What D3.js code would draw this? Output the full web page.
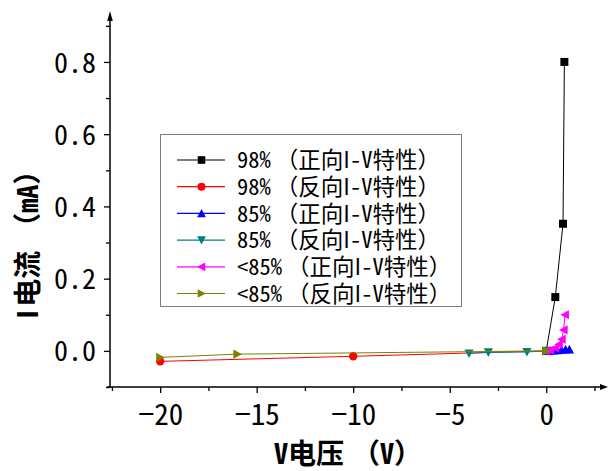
<!DOCTYPE html>
<html>
<head>
<meta charset="utf-8">
<script src="https://cdn.jsdelivr.net/npm/d3@7"></script>
<style>
  body { margin: 0; background: #fff; }
  svg { display: block; }
</style>
</head>
<body>
<svg></svg>
<script>
const seriesNames = [
  "98%（正向I-V特性）",
  "98%（反向I-V特性）",
  "85%（正向I-V特性）",
  "85%（反向I-V特性）",
  "<85%（正向I-V特性）",
  "<85%（反向I-V特性）",
];

const fwd98X = [0, 0.47, 0.87, 0.94];
const fwd98Y = [0, 0.149, 0.352, 0.8];
const rev98X = [-20, -10, 0];
const rev98Y = [-0.029, -0.015, 0];
const fwd85X = [0, 0.2, 0.4, 0.6, 0.8, 1.0, 1.2];
const fwd85Y = [0, 0, 0.001, 0.002, 0.003, 0.004, 0.004];
const rev85X = [-4, -3, -1, 0];
const rev85Y = [-0.007, -0.004, -0.003, 0];
const fwdLowX = [0, 0.2, 0.45, 0.65, 0.8, 0.9, 0.97];
const fwdLowY = [0, 0.002, 0.008, 0.018, 0.032, 0.058, 0.1];
const revLowX = [-20, -16, 0];
const revLowY = [-0.018, -0.009, 0];

const xTicks = [-20, -15, -10, -5, 0];
const yTicks = [0, 0.2, 0.4, 0.6, 0.8];

const series = [
  { name: seriesNames[0], xs: fwd98X, ys: fwd98Y, color: "#000000", shape: "square" },
  { name: seriesNames[1], xs: rev98X, ys: rev98Y, color: "#ff0000", shape: "circle" },
  { name: seriesNames[2], xs: fwd85X, ys: fwd85Y, color: "#0000ff", shape: "up" },
  { name: seriesNames[3], xs: rev85X, ys: rev85Y, color: "#008080", shape: "down" },
  { name: seriesNames[4], xs: fwdLowX, ys: fwdLowY, color: "#ff00ff", shape: "left" },
  { name: seriesNames[5], xs: revLowX, ys: revLowY, color: "#808000", shape: "right" },
];

const svg = d3.select("svg").attr("width", 608).attr("height", 471);

const monoFont = "'Noto Sans Mono CJK SC', 'Noto Sans CJK SC', sans-serif";
const sansFont = "'Noto Sans CJK SC', sans-serif";

const xScale = d3.scaleLinear().domain([-22.6, 3.2]).range([110, 608]);
const yScale = d3.scaleLinear().domain([-0.1, 0.93]).range([387, 15]);

// marker path generator
const marker = (shape, s) => {
  if (shape === "square") return `M${-s},${-s}H${s}V${s}H${-s}Z`;
  if (shape === "circle") return d3.symbol(d3.symbolCircle, Math.PI * s * s * 1.1)();
  const h = s * 1.15;
  if (shape === "up") return `M0,${-h}L${h},${s}L${-h},${s}Z`;
  if (shape === "down") return `M0,${h}L${h},${-s}L${-h},${-s}Z`;
  if (shape === "left") return `M${-h},0L${s},${-h}L${s},${h}Z`;
  return `M${h},0L${-s},${-h}L${-s},${h}Z`;
};

// the mono font has a serif "I" -> plain sans for that letter;
// the browser trims the blank half of "（", so put some gap back by hand
const fillText = (el, str, gaps = {}) => {
  let buf = "";
  const flush = () => {
    if (buf) el.append("tspan").text(buf);
    buf = "";
  };
  for (const ch of str) {
    if (ch === "I" || gaps[ch] !== undefined) {
      flush();
      const t = el.append("tspan").text(ch);
      if (ch === "I") t.style("font-family", sansFont);
      if (gaps[ch] !== undefined) t.attr("dx", gaps[ch]);
    } else {
      buf += ch;
    }
  }
  flush();
};

// axes
const xAxisY = yScale(-0.1);
const yAxisX = xScale(-22.6);

const xAxis = d3.axisBottom(xScale).tickValues(xTicks).tickSize(6).tickFormat((d) => (d < 0 ? "\u2212" + Math.abs(d) : d));
const xMinor = d3.axisBottom(xScale).tickValues([-22.5, -17.5, -12.5, -7.5, -2.5, 2.5]).tickSize(4).tickFormat("");
const yAxis = d3.axisLeft(yScale).tickValues(yTicks).tickSize(6).tickFormat(d3.format(".1f"));
const yMinor = d3.axisLeft(yScale).tickValues([-0.1, 0.1, 0.3, 0.5, 0.7, 0.9]).tickSize(4).tickFormat("");

const gx = svg.append("g").attr("transform", `translate(0,${xAxisY})`).call(xAxis);
svg.append("g").attr("transform", `translate(0,${xAxisY})`).call(xMinor);
const gy = svg.append("g").attr("transform", `translate(${yAxisX},0)`).call(yAxis);
svg.append("g").attr("transform", `translate(${yAxisX},0)`).call(yMinor);

svg.selectAll(".domain").remove();
svg.selectAll(".tick line").attr("stroke", "#000").attr("stroke-width", 1.3);

gx.selectAll(".tick text")
  .attr("y", 38)
  .attr("dy", 0)
  .style("font-family", monoFont)
  .style("font-size", "29px")
  .attr("fill", "#000");

gy.selectAll(".tick text")
  .attr("x", -14)
  .attr("dy", "0.36em")
  .style("font-family", monoFont)
  .style("font-size", "28px")
  .attr("fill", "#000");

// axis lines with arrows
svg.append("line")
  .attr("x1", yAxisX).attr("y1", xAxisY + 1)
  .attr("x2", yAxisX).attr("y2", 18)
  .attr("stroke", "#000").attr("stroke-width", 1.5);
svg.append("path")
  .attr("d", `M${yAxisX},11L${yAxisX + 2.8},21L${yAxisX - 2.8},21Z`)
  .attr("fill", "#000");
svg.append("line")
  .attr("x1", yAxisX - 3).attr("y1", xAxisY)
  .attr("x2", 603).attr("y2", xAxisY)
  .attr("stroke", "#000").attr("stroke-width", 1.5);
svg.append("path")
  .attr("d", `M608,${xAxisY}L600,${xAxisY - 3}L600,${xAxisY + 3}Z`)
  .attr("fill", "#000");

// data
const line = d3.line().x((d) => xScale(d[0])).y((d) => yScale(d[1]));

series.forEach((s) => {
  const pts = s.xs.map((x, i) => [x, s.ys[i]]);
  svg.append("path")
    .attr("d", line(pts))
    .attr("fill", "none")
    .attr("stroke", s.color)
    .attr("stroke-width", 1);
  svg.selectAll(null)
    .data(pts)
    .enter()
    .append("path")
    .attr("transform", (d) => `translate(${xScale(d[0])},${yScale(d[1])})`)
    .attr("d", marker(s.shape, 4))
    .attr("fill", s.color);
});

// legend
const legend = svg.append("g");
legend.append("rect")
  .attr("x", 160.5).attr("y", 134.5)
  .attr("width", 301).attr("height", 172)
  .attr("fill", "#fff")
  .attr("stroke", "#7f7f7f").attr("stroke-width", 1);

series.forEach((s, i) => {
  const y = 160 + i * 26.7;
  legend.append("line")
    .attr("x1", 177).attr("x2", 225)
    .attr("y1", y).attr("y2", y)
    .attr("stroke", s.color).attr("stroke-width", 1.2);
  legend.append("path")
    .attr("transform", `translate(201.5,${y})`)
    .attr("d", marker(s.shape, 3.8))
    .attr("fill", s.color);
  const t = legend.append("text")
    .attr("x", 237).attr("y", y)
    .attr("dy", "0.36em")
    .style("font-family", monoFont)
    .style("font-size", "22.5px")
    .attr("fill", "#000");
  fillText(t, s.name, { "（": 5 });
});

// axis titles
const xTitle = svg.append("text")
  .attr("x", 274).attr("y", 464)
  .style("font-family", monoFont)
  .style("font-size", "28px")
  .style("font-weight", "bold");
fillText(xTitle, "V电压（V）", { "（": 8 });

const yTitle = svg.append("text")
  .attr("transform", "translate(38,319) rotate(-90)")
  .style("font-family", monoFont)
  .style("font-size", "28px")
  .style("font-weight", "bold");
fillText(yTitle, "I电流（mA）", { "电": 3, "（": 10 });
</script>
</body>
</html>
